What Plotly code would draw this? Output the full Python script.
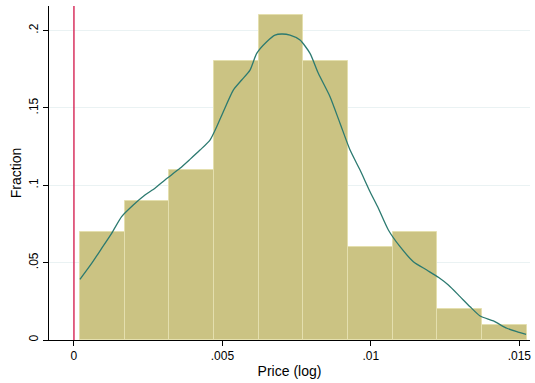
import plotly.graph_objects as go

# Histogram bins (left edges), common width, and fractions
bin_left = [0.000202, 0.001707, 0.003212, 0.004717, 0.006222,
            0.007727, 0.009232, 0.010737, 0.012242, 0.013747]
bin_width = 0.001505
fractions = [0.07, 0.09, 0.11, 0.18, 0.21, 0.18, 0.06, 0.07, 0.02, 0.01]

# Density curve points
kde_x = [0.000202, 0.000596, 0.000933, 0.00127, 0.001607, 0.001998, 0.002392,
         0.002729, 0.003066, 0.003571, 0.003908, 0.004245, 0.004582, 0.004808,
         0.00503, 0.005367, 0.00565, 0.00593, 0.006156, 0.006493, 0.006772,
         0.006998, 0.007278, 0.007615, 0.007951, 0.008231, 0.008625, 0.008962,
         0.0093, 0.009636, 0.009973, 0.010253, 0.01059, 0.010984, 0.011432,
         0.011883, 0.012274, 0.012611, 0.013005, 0.013342, 0.01368, 0.014128,
         0.014579, 0.014916, 0.015229]
kde_y = [0.0392, 0.0495, 0.0592, 0.0689, 0.0797, 0.0872, 0.0937,
         0.0980, 0.1034, 0.1109, 0.1167, 0.1227, 0.1292, 0.1378,
         0.1475, 0.1615, 0.1680, 0.1744, 0.1852, 0.1927, 0.1970,
         0.1977, 0.1970, 0.1938, 0.1852, 0.1723, 0.1572, 0.1400,
         0.1227, 0.1098, 0.0958, 0.0851, 0.0711, 0.0603, 0.0506,
         0.0452, 0.0405, 0.0355, 0.0280, 0.0215, 0.0155, 0.0123,
         0.0076, 0.0054, 0.0037]

y_ticks = [0, 0.05, 0.1, 0.15, 0.2]
y_ticktext = ["0", ".05", ".1", ".15", ".2"]
x_ticks = [0, 0.005, 0.01, 0.015]
x_ticktext = ["0", ".005", ".01", ".015"]
ref_line_x = 0

fig = go.Figure()
fig.add_trace(go.Bar(
    x=[l + bin_width / 2 for l in bin_left], y=fractions, width=bin_width,
    marker=dict(color="#cbc383", line=dict(color="#e4dfae", width=1)),
    hoverinfo="skip", showlegend=False))
fig.add_trace(go.Scatter(
    x=kde_x, y=kde_y, mode="lines", line=dict(color="#2c7a70", width=1.3, shape="spline", smoothing=0.6),
    showlegend=False))

fig.add_shape(type="line", x0=ref_line_x, x1=ref_line_x, y0=0, y1=1,
              xref="x", yref="paper", line=dict(color="#d8325f", width=1.5))

font = dict(family="Liberation Sans, Arial, sans-serif", size=12, color="black")
fig.update_layout(
    width=535, height=383,
    margin=dict(l=49, r=5, t=6, b=43, autoexpand=False),
    paper_bgcolor="white", plot_bgcolor="white",
    font=font, bargap=0,
    xaxis=dict(range=[-0.00084, 0.01536], showline=True, linecolor="black", linewidth=1,
               ticks="outside", ticklen=5, tickcolor="black", tickvals=x_ticks,
               ticktext=x_ticktext, showgrid=False, zeroline=False, automargin=False,
               title=dict(text="Price (log)", standoff=3)),
    yaxis=dict(range=[0, 0.2158], showline=True, linecolor="black", linewidth=1,
               ticks="outside", ticklen=5, tickcolor="black", tickvals=y_ticks,
               ticktext=y_ticktext, tickangle=-90, showgrid=True, gridcolor="#eaf2f3",
               gridwidth=1, zeroline=False, automargin=False,
               title=dict(text="Fraction", standoff=2)),
)
fig.write_html("out.html", config={"displayModeBar": False},
               post_script="document.body.style.margin='0';")
